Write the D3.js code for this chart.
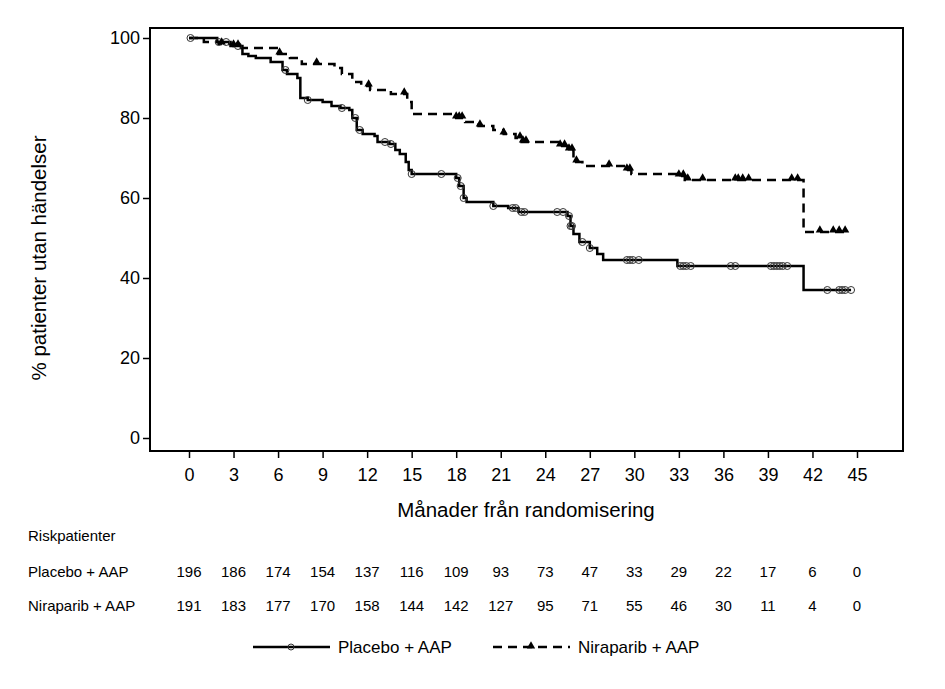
<!doctype html>
<html>
<head>
<meta charset="utf-8">
<script src="https://cdnjs.cloudflare.com/ajax/libs/d3/7.8.5/d3.min.js"></script>
<style>
  body { margin: 0; background: white; }
  text { font-family: "Liberation Sans", Arial, sans-serif; fill: black; }
</style>
</head>
<body>
<script>
// step points [month, % event free]
var placeboSteps = [[0,100],[1.9,99],[2.8,98],[3.6,96],[4,95.5],[4.5,95],[5.5,94],[6.3,92],[6.6,91],[7.3,90],[7.5,85],[8,84.5],[9,84],[9.6,83],[10.2,82.5],[10.8,82],[11,80],[11.3,77],[11.7,76],[12.5,75.5],[12.7,74],[13.5,73.5],[13.9,72],[14.2,71],[14.6,69],[14.8,67],[15,66],[18,65],[18.2,63],[18.5,60],[18.7,59],[20.5,58],[21.5,57.5],[22.2,56.5],[25.5,55.5],[25.7,53],[25.9,51],[26.3,49],[27,47.5],[27.5,46],[27.9,44.5],[30.2,44.5],[32.9,43],[41.4,37]];
var placeboEnd = 44.6;
var placeboCensor = [0.1,2,2.5,3.3,6.5,8,10.3,11.2,11.5,13.2,13.6,15,17,18.1,18.3,18.5,20.5,21.8,22,22.4,22.6,24.8,25.2,25.6,25.7,25.8,26.5,27,29.5,29.7,29.9,30.3,33.1,33.3,33.5,33.8,36.5,36.8,39.2,39.4,39.6,39.8,40,40.3,43,43.8,44,44.2,44.6];
var niraSteps = [[0,100],[1,99],[2,98.5],[3,98],[3.5,97.5],[6,96],[6.8,95],[7.6,93.5],[9.8,92.5],[10.3,91],[11,89],[11.6,88],[12.2,87],[13.6,86],[14.7,84],[15,81],[18,80],[18.6,79],[19.5,78],[20.5,77],[21.2,76],[22,75],[22.4,74],[25,73],[25.5,72],[25.9,69],[26.5,68],[29.5,67],[29.8,66],[33,65.5],[33.4,64.5],[41.4,51.5]];
var niraEnd = 44.3;
var niraCensor = [2.2,3,3.3,6.1,8.6,12.1,14.5,18,18.2,18.4,19.6,21.2,22.3,22.5,22.7,25,25.3,25.6,25.8,26.1,28.3,29.5,29.7,33,33.3,33.6,34.6,36.8,37,37.3,37.7,40.6,41,42.5,43.4,43.8,44.2];
var xTicks = d3.range(0, 46, 3);
var yTicks = [0, 20, 40, 60, 80, 100];
var riskPlacebo = [196,186,174,154,137,116,109,93,73,47,33,29,22,17,6,0];
var riskNira = [191,183,177,170,158,144,142,127,95,71,55,46,30,11,4,0];
var groups = ["Placebo + AAP", "Niraparib + AAP"];

var W = 945, H = 689;
var svg = d3.select("body").append("svg").attr("width", W).attr("height", H);
var x = d3.scaleLinear().domain([0, 45]).range([189, 857]);
var y = d3.scaleLinear().domain([0, 100]).range([438, 38]);
var L = 150, R = 903, T = 28, B = 451;

svg.append("rect").attr("x", L).attr("y", T).attr("width", R - L).attr("height", B - T)
  .attr("fill", "none").attr("stroke", "black").attr("stroke-width", 2);

svg.append("g").attr("transform", "translate(" + L + ",0)")
  .call(d3.axisLeft(y).tickValues(yTicks).tickSize(7).tickSizeOuter(0))
  .call(function (g) { g.select(".domain").remove(); g.selectAll("line").attr("stroke-width", 1.5);
    g.selectAll("text").attr("font-size", 18).attr("font-family", "Liberation Sans, Arial"); });
svg.append("g").attr("transform", "translate(0," + B + ")")
  .call(d3.axisBottom(x).tickValues(xTicks).tickSize(7).tickSizeOuter(0))
  .call(function (g) { g.select(".domain").remove(); g.selectAll("line").attr("stroke-width", 1.5);
    g.selectAll("text").attr("font-size", 18).attr("dy", "1.1em").attr("font-family", "Liberation Sans, Arial"); });

svg.append("text").attr("transform", "translate(46," + (y(45)) + ") rotate(-90)")
  .attr("text-anchor", "middle").attr("font-size", 20.5).text("% patienter utan händelser");
svg.append("text").attr("x", 526).attr("y", 517).attr("text-anchor", "middle")
  .attr("font-size", 20.5).text("Månader från randomisering");

function stepPath(steps, end) {
  var pts = [];
  steps.forEach(function (s, i) {
    if (i > 0) pts.push([s[0], steps[i - 1][1]]);
    pts.push(s);
  });
  pts.push([end, steps[steps.length - 1][1]]);
  return d3.line().x(function (d) { return x(d[0]); }).y(function (d) { return y(d[1]); })(pts);
}
function valueAt(steps, t) {
  var v = steps[0][1];
  steps.forEach(function (s) { if (s[0] <= t) v = s[1]; });
  return v;
}

svg.append("path").attr("d", stepPath(placeboSteps, placeboEnd)).attr("fill", "none")
  .attr("stroke", "black").attr("stroke-width", 2.5);
svg.append("path").attr("d", stepPath(niraSteps, niraEnd)).attr("fill", "none")
  .attr("stroke", "black").attr("stroke-width", 2.5).attr("stroke-dasharray", "9,6");

svg.selectAll("circle.pc").data(placeboCensor).enter().append("circle")
  .attr("cx", function (d) { return x(d); }).attr("cy", function (d) { return y(valueAt(placeboSteps, d)); })
  .attr("r", 3.5).attr("fill", "none").attr("stroke", "#333").attr("stroke-width", 1);
var tri = d3.symbol().type(d3.symbolTriangle).size(30);
svg.selectAll("path.nc").data(niraCensor).enter().append("path").attr("d", tri)
  .attr("transform", function (d) { return "translate(" + x(d) + "," + (y(valueAt(niraSteps, d)) - 2) + ")"; })
  .attr("fill", "black");

// risk table
svg.append("text").attr("x", 28).attr("y", 541).attr("font-size", 15).text("Riskpatienter");
[[riskPlacebo, 577], [riskNira, 611]].forEach(function (row, i) {
  svg.append("text").attr("x", 28).attr("y", row[1]).attr("font-size", 15).text(groups[i]);
  svg.selectAll(null).data(row[0]).enter().append("text")
    .attr("x", function (d, j) { return x(xTicks[j]); }).attr("y", row[1])
    .attr("text-anchor", "middle").attr("font-size", 15).text(function (d) { return d; });
});

// legend
var lg = svg.append("g").attr("transform", "translate(0,647)");
lg.append("line").attr("x1", 253).attr("x2", 330).attr("stroke", "black").attr("stroke-width", 2.5);
lg.append("circle").attr("cx", 291).attr("r", 3).attr("fill", "none").attr("stroke", "#333");
lg.append("text").attr("x", 338).attr("y", 6).attr("font-size", 17).text(groups[0]);
lg.append("line").attr("x1", 493).attr("x2", 570).attr("stroke", "black").attr("stroke-width", 2.5).attr("stroke-dasharray", "9,6");
lg.append("path").attr("d", tri).attr("transform", "translate(531,-1)");
lg.append("text").attr("x", 578).attr("y", 6).attr("font-size", 17).text(groups[1]);
</script>
</body>
</html>
